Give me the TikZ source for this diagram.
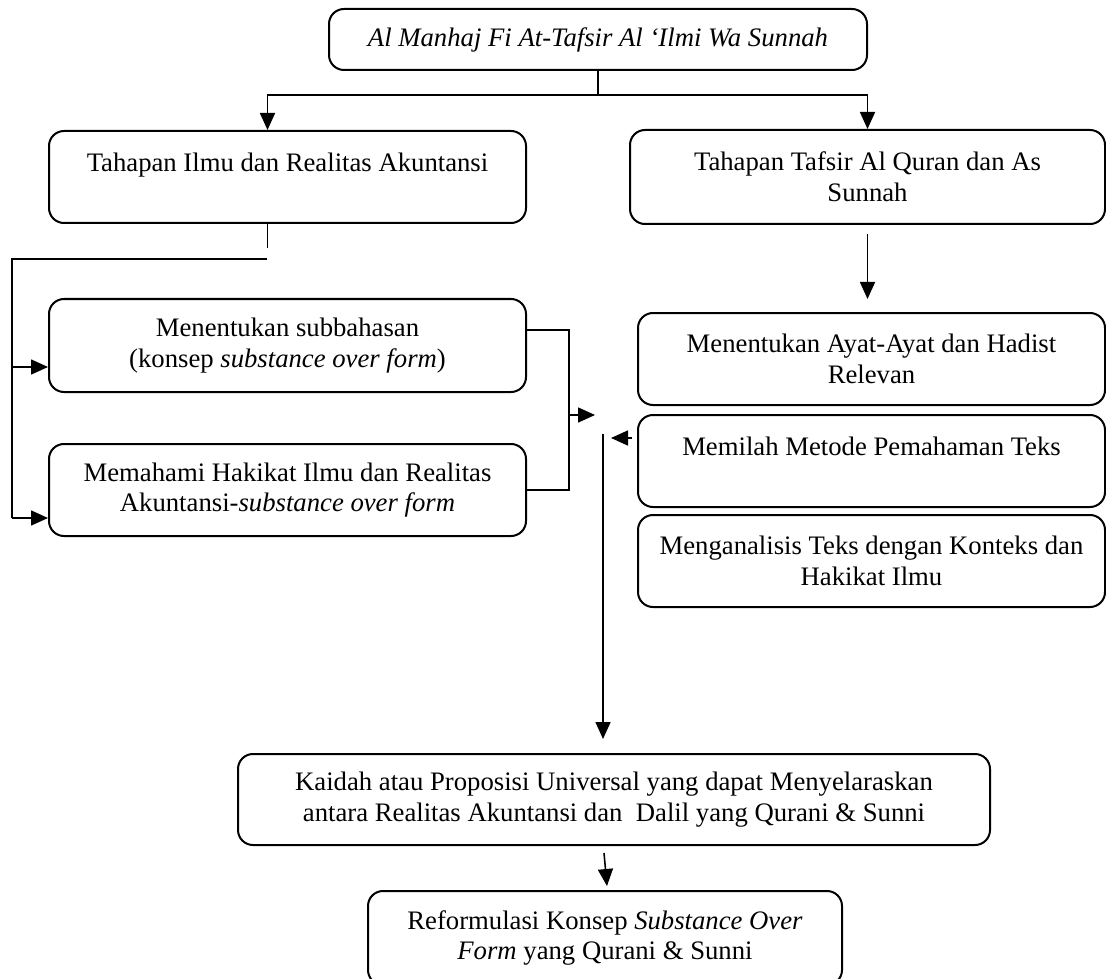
\documentclass[tikz,border=0pt]{standalone}
\usepackage{fontspec}
\setmainfont{Liberation Serif}
\usetikzlibrary{arrows.meta}

\tikzset{
  kotak/.style={draw, line width=1pt, rounded corners=7.5pt, align=center, inner sep=0pt,
    font=\fontsize{13.35}{15.4}\selectfont},
  garis/.style={line width=0.8pt}
}

\begin{document}
\begin{tikzpicture}[x=0.5pt, y=-0.5pt, >={Triangle[length=8.5pt,width=7.5pt]}]
\useasboundingbox (0,0) rectangle (1106,978);
% kotak
\node[kotak, minimum width=269pt, minimum height=30.5pt] (judul) at (598,39.5)
  {\textit{Al Manhaj Fi At-Tafsir Al ‘Ilmi Wa Sunnah}};
\node[kotak, minimum width=238.5pt, minimum height=46pt] (ilmu) at (287.5,177)
  {Tahapan Ilmu dan Realitas Akuntansi\\[-5pt] \strut};
\node[kotak, minimum width=237.5pt, minimum height=47pt] (tafsir) at (867.5,177)
  {Tahapan Tafsir Al Quran dan As\\Sunnah};
\node[kotak, minimum width=238.5pt, minimum height=46.5pt] (subbahasan) at (287.5,345.5)
  {Menentukan subbahasan\\(konsep \textit{substance over form})};
\node[kotak, minimum width=238.5pt, minimum height=46pt] (hakikat) at (287.5,490)
  {Memahami Hakikat Ilmu dan Realitas\\Akuntansi-\textit{substance over form}};
\node[kotak, minimum width=233.5pt, minimum height=46pt] (ayat) at (871.5,359)
  {Menentukan Ayat-Ayat dan Hadist\\Relevan};
\node[kotak, minimum width=233.5pt, minimum height=46pt] (memilah) at (871.5,461)
  {Memilah Metode Pemahaman Teks\\[-5pt] \strut};
\node[kotak, minimum width=233.5pt, minimum height=46pt] (analisis) at (871.5,561)
  {Menganalisis Teks dengan Konteks dan\\Hakikat Ilmu};
\node[kotak, minimum width=376pt, minimum height=45.5pt] (kaidah) at (614,799.5)
  {Kaidah atau Proposisi Universal yang dapat Menyelaraskan\\antara Realitas Akuntansi dan\ \ Dalil yang Qurani \& Sunni};
\node[kotak, minimum width=237pt, minimum height=47pt] (reformulasi) at (605,938)
  {Reformulasi Konsep \textit{Substance Over}\\\textit{Form} yang Qurani \& Sunni};

% cabang atas
\coordinate (cabang) at (598,95);
\draw[line width=0.6pt] (judul.south) -- (cabang);
\draw[garis,->] (cabang) -| ([xshift=-10pt]ilmu.north);
\draw[garis,->] (cabang) -| (tafsir.north);

% sisi kiri
\coordinate (ujung) at (267,259);
\coordinate (sudut) at (12,259);
\coordinate (m1) at ([yshift=-10.75pt]subbahasan.west);
\coordinate (m2) at ([yshift=-14pt]hakikat.west);
\draw[line width=0.6pt] ([xshift=-10pt]ilmu.south) -- ++(0,24);
\draw[garis] (ujung) -- (sudut) -- (sudut |- m2);
\draw[garis,->] (sudut |- m1) -- (m1);
\draw[garis,->] (sudut |- m2) -- (m2);

% kurung tengah
\coordinate (kurung) at (569,490);
\coordinate (gabung) at (569,415);
\coordinate (gabungujung) at (595,415);
\draw[garis] ([yshift=7.75pt]subbahasan.east) -| (kurung) -- (hakikat.east);
\draw[garis,->] (gabung) -- (gabungujung);

% sisi kanan
\draw[garis,->] ([yshift=-4.5pt]tafsir.south) -- ++(0,65);
\draw[garis,->] ([xshift=-2.5pt,yshift=11.5pt]memilah.west) -- ++(-21,0);
\coordinate (turun) at (603,434);
\draw[garis,->] (turun) -- ([xshift=-5.5pt,yshift=7pt]kaidah.north);
\draw[garis,->] ([xshift=-5pt,yshift=-3.5pt]kaidah.south) -- ([xshift=1pt,yshift=2pt]reformulasi.north);
\end{tikzpicture}
\end{document}
